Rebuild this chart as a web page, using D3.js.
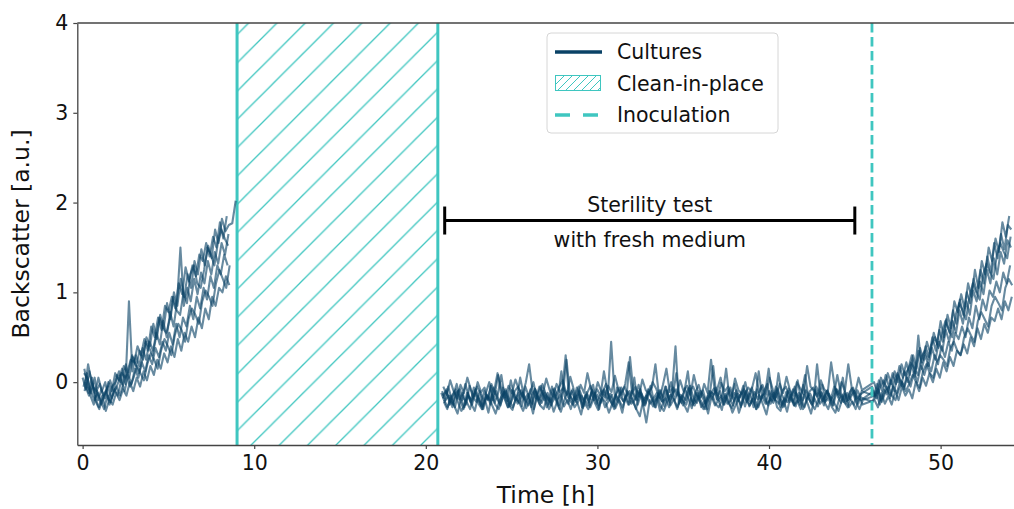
<!DOCTYPE html>
<html>
<head>
<meta charset="utf-8">
<script src="https://cdn.jsdelivr.net/npm/d3@7"></script>
<style>
  body { margin: 0; background: #fff; }
  text { font-family: "DejaVu Sans", sans-serif; fill: #111; }
</style>
</head>
<body>
<div id="chart"></div>
<script>
// sampling of the backscatter readings (hours)
var stepH = 0.2;
var preStart = 0;
var sterileStart = 20.9;
var postStart = 46;
// each culture is read a little after the previous one
var cultureOffset = [0, 0.1, 0.05, 0.15, 0.12, 0.08, 0.17];

// growth before clean-in-place, one row per culture
var preCip = [
  [0.05, -0.08, 0.12, -0.05, -0.1, -0.02, -0.15, -0.08, 0.02, -0.1,
   0.08, 0.0, 0.18, 0.1, 0.25, 0.22, 0.4, 0.3, 0.48, 0.35,
   0.62, 0.5, 0.72, 0.58, 0.85, 0.78, 0.95, 0.82, 1.1, 0.98,
   1.28, 1.12, 1.3, 1.18, 1.42, 1.35, 1.55, 1.4, 1.62, 1.5,
   1.78, 1.6, 1.85],
  [0.15, -0.05, -0.12, 0.05, -0.2, -0.08, -0.18, 0.0, -0.1, 0.1,
   0.02, 0.15, -0.02, 0.9, 0.12, 0.3, 0.18, 0.38, 0.25, 0.45,
   0.35, 0.55, 0.42, 0.68, 0.5, 0.78, 0.62, 0.88, 1.5, 0.85,
   1.05, 0.9, 1.15, 0.98, 1.22, 1.1, 1.35, 1.2, 1.45, 1.32,
   1.55, 1.42, 1.65],
  [-0.05, 0.1, -0.15, -0.25, -0.1, -0.2, -0.3, -0.15, -0.22, -0.08,
   -0.15, 0.02, -0.1, 0.08, -0.02, 0.15, 0.05, 0.22, 0.12, 0.3,
   0.2, 0.38, 0.28, 0.45, 0.35, 0.55, 0.42, 0.65, 0.5, 0.72,
   0.62, 0.85, 0.7, 0.95, 0.82, 1.05, 0.92, 1.18, 1.05, 1.3,
   1.2, 1.42, 1.3],
  [0.0, -0.12, 0.05, -0.18, -0.28, -0.15, -0.32, -0.2, -0.25, -0.12,
   -0.2, -0.08, -0.15, 0.0, -0.1, 0.05, -0.05, 0.12, 0.02, 0.18,
   0.08, 0.25, 0.15, 0.32, 0.22, 0.4, 0.28, 0.48, 0.35, 0.55,
   0.45, 0.62, 0.5, 0.72, 0.6, 0.82, 0.7, 0.95, 0.85, 1.05,
   1.0, 1.18, 1.08],
  [-0.1, 0.2, 0.0, -0.12, 0.05, -0.1, 0.0, -0.2, -0.05, 0.0,
   0.12, -0.02, 0.2, 0.05, 0.28, 0.18, 0.35, 0.25, 0.5, 0.4,
   0.65, 0.48, 0.75, 0.6, 0.88, 0.7, 1.0, 0.85, 1.15, 0.95,
   1.2, 1.05, 1.35, 1.2, 1.48, 1.3, 1.52, 1.38, 1.7, 1.55,
   1.82, 1.68, 1.75, 1.77, 2.02],
  [0.1, 0.05, -0.1, -0.2, -0.12, -0.25, -0.15, -0.05, -0.18, -0.1,
   0.0, 0.1, 0.05, 0.12, 0.3, 0.2, 0.1, 0.25, 0.45, 0.38,
   0.3, 0.5, 0.72, 0.6, 0.55, 0.7, 0.95, 0.8, 0.75, 1.0,
   0.88, 1.2, 1.3, 1.1, 1.05, 1.25, 1.5, 1.42, 1.3, 1.55,
   1.7, 1.6, 1.52],
  [-0.05, -0.15, -0.02, -0.22, -0.3, -0.18, -0.1, -0.25, -0.12, -0.05,
   -0.15, -0.02, 0.08, -0.05, 0.05, 0.18, 0.1, 0.02, 0.2, 0.32,
   0.25, 0.15, 0.35, 0.48, 0.4, 0.3, 0.52, 0.65, 0.58, 0.45,
   0.7, 0.82, 0.75, 0.65, 0.9, 1.02, 0.95, 0.85, 1.1, 1.25,
   1.15, 1.05, 1.3]
];

// sterility test with fresh medium
var sterile = [
  [-0.12, -0.22, -0.05, -0.18, -0.28, -0.1, -0.2, -0.02, -0.15, -0.25,
   -0.08, -0.18, -0.3, -0.12, 0.0, -0.2, -0.1, -0.24, -0.06, -0.16,
   -0.27, -0.1, -0.19, 0.05, -0.14, -0.22, -0.08, -0.3, -0.15, -0.04,
   -0.2, -0.12, -0.26, -0.07, -0.18, 0.12, -0.16, -0.24, -0.1, -0.2,
   -0.05, -0.28, -0.14, -0.22, -0.09, -0.17, -0.3, -0.11, -0.02, -0.19,
   -0.25, -0.13, -0.06, -0.21, -0.15, 0.28, -0.12, -0.2, -0.08, -0.26,
   -0.14, -0.04, -0.22, -0.17, -0.09, -0.27, -0.13, 0.0, -0.2, -0.11,
   -0.23, -0.07, -0.18, -0.29, -0.12, -0.03, -0.16, -0.24, -0.1, -0.19,
   -0.06, -0.21, -0.14, 0.15, -0.18, -0.26, -0.09, -0.17, -0.04, -0.22,
   -0.13, -0.28, -0.08, -0.19, -0.11, -0.02, -0.24, -0.15, -0.07, -0.2,
   -0.27, -0.1, -0.16, -0.05, -0.22, -0.12, 0.08, -0.18, -0.25, -0.09,
   -0.15, -0.03, -0.2, -0.13, -0.26, -0.08, -0.17, 0.05, -0.21, -0.11,
   -0.06, -0.19, -0.14],
  [-0.18, -0.08, -0.25, -0.14, -0.02, -0.2, -0.3, -0.12, -0.22, -0.06,
   -0.16, -0.26, -0.1, -0.19, -0.04, -0.23, -0.13, 0.08, -0.17, -0.28,
   -0.09, -0.2, -0.12, -0.27, -0.05, -0.16, -0.24, -0.11, -0.19, -0.02,
   -0.14, -0.25, -0.08, -0.18, -0.3, -0.1, 0.25, -0.15, -0.21, -0.06,
   -0.17, -0.27, -0.12, -0.04, -0.2, -0.14, -0.23, -0.08, -0.18, 0.45,
   -0.13, -0.22, -0.06, -0.16, -0.25, -0.1, -0.19, -0.03, -0.15, -0.24,
   -0.11, -0.2, -0.28, -0.09, -0.17, -0.05, -0.22, -0.14, 0.1, -0.19,
   -0.26, -0.12, -0.04, -0.18, -0.23, -0.1, -0.16, -0.3, -0.13, -0.07,
   -0.2, -0.15, -0.25, -0.09, -0.18, -0.02, -0.21, -0.12, -0.27, -0.14,
   -0.06, -0.19, 0.12, -0.16, -0.24, -0.1, -0.2, -0.05, -0.17, -0.28,
   -0.11, -0.22, -0.08, -0.15, -0.25, -0.03, -0.18, -0.13, -0.21, 0.2,
   -0.14, -0.26, -0.09, -0.19, -0.05, -0.16, -0.23, -0.11, -0.2, -0.07,
   -0.15, -0.24, -0.1],
  [-0.1, -0.2, -0.15, -0.28, -0.08, -0.19, -0.12, -0.25, -0.04, -0.17,
   -0.22, -0.1, -0.3, -0.14, -0.2, -0.06, -0.18, -0.26, -0.11, -0.21,
   0.02, -0.15, -0.24, -0.09, -0.19, -0.13, -0.28, -0.07, -0.17, -0.23,
   -0.12, -0.2, -0.05, -0.16, -0.26, -0.1, 0.3, -0.18, -0.08, -0.22,
   -0.14, -0.29, -0.11, -0.19, -0.03, -0.24, -0.15, -0.09, -0.2, -0.13,
   -0.27, -0.06, -0.17, -0.22, -0.1, -0.18, 0.05, -0.25, -0.12, -0.2,
   -0.08, -0.16, -0.28, -0.13, -0.21, -0.05, -0.19, -0.11, 0.4, -0.24,
   -0.15, -0.2, -0.07, -0.26, -0.12, -0.18, -0.09, -0.23, -0.14, 0.18,
   -0.19, -0.1, -0.25, -0.16, -0.06, -0.21, -0.13, -0.28, -0.08, -0.17,
   -0.23, -0.11, -0.19, -0.04, -0.15, -0.26, -0.1, -0.2, 0.1, -0.14,
   -0.22, -0.07, -0.18, -0.27, -0.12, -0.2, -0.09, -0.16, -0.24, -0.05,
   -0.13, -0.21, -0.1, -0.18, -0.26, -0.08, -0.15, -0.22, -0.12, -0.19,
   -0.25, -0.09, -0.17],
  [-0.22, -0.3, -0.15, -0.26, -0.35, -0.18, -0.28, -0.12, -0.24, -0.32,
   -0.16, -0.27, -0.2, -0.34, -0.14, -0.25, -0.3, -0.19, -0.08, -0.26,
   -0.31, -0.17, -0.23, -0.12, -0.29, -0.2, -0.35, -0.15, -0.25, -0.1,
   -0.28, -0.18, -0.33, -0.22, -0.13, -0.27, -0.2, -0.3, -0.16, -0.24,
   -0.36, -0.19, -0.26, -0.11, -0.23, -0.31, -0.17, -0.28, -0.21, -0.14,
   -0.29, -0.2, -0.34, -0.15, -0.25, -0.18, -0.3, -0.12, -0.24, -0.45,
   -0.2, -0.27, -0.16, -0.32, -0.22, -0.09, -0.26, -0.19, -0.3, -0.14,
   -0.25, -0.33, -0.18, -0.23, -0.12, -0.28, -0.21, -0.35, -0.16, -0.26,
   -0.2, -0.31, -0.13, -0.24, -0.29, -0.17, -0.34, -0.22, -0.1, -0.27,
   -0.19, -0.3, -0.15, -0.25, -0.36, -0.18, -0.23, -0.12, -0.28, -0.2,
   -0.33, -0.16, -0.26, -0.21, -0.3, -0.14, -0.24, -0.35, -0.18, -0.27,
   -0.11, -0.23, -0.3, -0.17, -0.25, -0.32, -0.2, -0.13, -0.28, -0.22,
   -0.3, -0.16, -0.25],
  [-0.05, -0.14, 0.02, -0.1, -0.18, -0.03, -0.12, 0.05, -0.08, -0.16,
   0.0, -0.11, -0.06, -0.2, -0.02, -0.13, 0.08, -0.09, -0.17, -0.04,
   -0.12, 0.03, -0.08, -0.15, -0.01, 0.2, -0.1, -0.18, -0.05, -0.13,
   0.04, -0.09, -0.16, -0.02, -0.11, -0.06, -0.14, 0.06, -0.08, -0.19,
   -0.03, -0.12, 0.1, -0.07, -0.15, 0.0, -0.1, -0.17, -0.04, -0.11,
   0.07, -0.08, -0.14, -0.02, 0.22, -0.12, -0.05, -0.16, 0.03, -0.09,
   -0.13, 0.0, -0.07, -0.18, -0.03, 0.15, -0.11, -0.06, -0.15, 0.02,
   -0.1, -0.04, -0.14, 0.08, -0.08, -0.17, -0.02, -0.12, 0.25, -0.07,
   -0.15, -0.01, -0.1, -0.05, -0.16, 0.04, -0.09, -0.13, 0.0, -0.18,
   -0.06, 0.1, -0.11, -0.03, -0.14, 0.05, -0.08, -0.17, -0.02, -0.12,
   0.06, -0.09, -0.15, 0.0, -0.07, -0.13, 0.18, -0.05, -0.1, -0.16,
   0.02, -0.08, -0.12, 0.22, -0.04, -0.14, 0.0, -0.1, 0.2, -0.06,
   -0.12, 0.05, -0.09],
  [-0.15, -0.1, -0.2, -0.25, -0.12, -0.08, -0.18, -0.22, -0.3, -0.15,
   -0.05, -0.12, -0.2, -0.15, -0.25, -0.1, 0.1, -0.12, -0.18, -0.28,
   -0.22, -0.1, -0.05, -0.15, -0.2, -0.26, -0.14, -0.08, -0.2, -0.12,
   -0.18, -0.3, -0.22, -0.15, -0.05, 0.02, -0.12, -0.2, -0.25, -0.16,
   -0.1, -0.2, -0.14, -0.28, -0.18, -0.08, -0.15, 0.12, -0.1, -0.22,
   -0.3, -0.18, -0.12, -0.05, -0.15, -0.24, -0.2, -0.1, -0.16, -0.26,
   -0.12, -0.06, 0.2, -0.14, -0.22, -0.18, -0.28, -0.12, -0.08, -0.16,
   -0.2, -0.25, -0.1, -0.05, -0.15, -0.22, -0.3, -0.18, -0.1, -0.14,
   -0.08, 0.05, -0.16, -0.24, -0.2, -0.12, -0.18, -0.26, -0.15, -0.06,
   -0.1, -0.2, -0.28, -0.16, -0.12, 0.15, -0.14, -0.2, -0.24, -0.1,
   -0.05, -0.16, -0.22, -0.12, -0.18, -0.3, -0.2, -0.1, -0.06, -0.15,
   -0.24, -0.18, -0.1, -0.2, -0.14, 0.08, -0.12, -0.22, -0.28, -0.16,
   -0.1, -0.18, -0.2],
  [-0.2, -0.28, -0.18, -0.1, -0.22, -0.32, -0.25, -0.15, -0.2, -0.12,
   -0.24, -0.3, -0.2, -0.16, -0.26, -0.35, -0.22, -0.14, -0.1, -0.2,
   -0.28, -0.18, -0.24, -0.32, -0.2, -0.12, 0.0, -0.18, -0.26, -0.3,
   -0.16, -0.22, -0.14, -0.25, -0.33, -0.2, -0.1, -0.18, -0.28, -0.22,
   -0.15, -0.24, -0.3, -0.2, -0.12, -0.26, -0.18, -0.22, -0.34, -0.24,
   -0.14, -0.2, -0.28, -0.16, -0.1, -0.22, -0.3, -0.38, -0.2, -0.15,
   -0.24, -0.18, -0.12, -0.26, -0.32, -0.22, -0.14, -0.2, -0.28, -0.18,
   -0.1, 0.12, -0.2, -0.26, -0.16, -0.22, -0.3, -0.18, -0.12, -0.24,
   -0.28, -0.2, -0.15, -0.22, -0.34, -0.25, -0.16, -0.1, -0.2, -0.26,
   -0.18, -0.3, -0.22, -0.14, -0.24, -0.2, -0.12, -0.28, -0.32, -0.18,
   -0.22, -0.14, -0.26, 0.02, -0.2, -0.28, -0.16, -0.24, -0.3, -0.2,
   -0.12, -0.22, -0.18, -0.28, -0.34, -0.2, -0.14, -0.24, -0.18, -0.1,
   -0.22, -0.3, -0.2]
];

// growth after inoculation
var postInoc = [
  [-0.05, -0.18, 0.02, -0.1, 0.08, -0.06, 0.1, -0.02, 0.18, 0.05,
   0.22, 0.08, 0.3, 0.15, 0.38, 0.25, 0.45, 0.32, 0.55, 0.42,
   0.68, 0.5, 0.75, 0.6, 0.9, 0.78, 0.98, 0.82, 1.1, 0.95,
   1.25, 1.05, 1.35, 1.2, 1.5, 1.35, 1.6, 1.45, 1.78, 1.62, 1.85],
  [-0.15, -0.02, -0.2, -0.08, -0.14, 0.02, -0.1, 0.08, -0.04, 0.12,
   0.0, 0.2, 0.06, 0.52, 0.15, 0.3, 0.18, 0.38, 0.25, 0.45,
   0.35, 0.58, 0.45, 0.68, 0.55, 0.8, 0.65, 0.9, 0.75, 1.02,
   0.9, 1.12, 0.98, 1.25, 1.1, 1.38, 1.2, 1.45, 1.32, 1.58, 1.5],
  [-0.22, -0.1, -0.25, -0.15, -0.05, -0.18, -0.05, -0.12, 0.02, -0.08,
   0.05, -0.05, 0.12, 0.0, 0.18, 0.08, 0.22, 0.12, 0.3, 0.2,
   0.4, 0.28, 0.45, 0.35, 0.55, 0.48, 0.62, 0.5, 0.72, 0.6,
   0.85, 0.7, 0.92, 0.8, 1.02, 0.95, 1.12, 1.0, 1.22, 1.1, 1.3],
  [-0.2, -0.28, -0.12, -0.24, -0.16, -0.25, -0.1, -0.2, -0.05, -0.15,
   -0.08, -0.18, 0.0, -0.1, 0.05, -0.04, 0.1, 0.0, 0.15, 0.05,
   0.22, 0.12, 0.28, 0.18, 0.35, 0.3, 0.42, 0.32, 0.5, 0.4,
   0.6, 0.48, 0.65, 0.55, 0.72, 0.68, 0.82, 0.7, 0.9, 0.8, 0.95],
  [0.0, -0.12, 0.05, -0.05, 0.1, -0.02, 0.12, 0.0, 0.2, 0.08,
   0.15, 0.3, 0.1, 0.35, 0.22, 0.4, 0.28, 0.5, 0.35, 0.58,
   0.45, 0.7, 0.55, 0.8, 0.65, 0.92, 0.75, 1.0, 0.88, 1.15,
   1.0, 1.25, 1.1, 1.4, 1.22, 1.55, 1.38, 1.65, 1.48, 1.75, 1.7],
  [-0.1, -0.18, -0.05, 0.02, -0.08, -0.15, 0.0, 0.1, 0.02, -0.05,
   0.12, 0.22, 0.15, 0.08, 0.28, 0.35, 0.25, 0.42, 0.5, 0.38,
   0.55, 0.68, 0.58, 0.5, 0.75, 0.88, 0.8, 0.7, 0.95, 1.1,
   1.0, 0.92, 1.2, 1.32, 1.22, 1.15, 1.42, 1.55, 1.45, 1.38, 1.62],
  [-0.15, -0.08, -0.22, -0.12, -0.05, -0.15, -0.2, -0.08, 0.0, -0.1,
   -0.02, 0.08, 0.0, -0.06, 0.12, 0.2, 0.1, 0.05, 0.22, 0.3,
   0.25, 0.18, 0.38, 0.45, 0.35, 0.3, 0.5, 0.6, 0.52, 0.45,
   0.68, 0.78, 0.7, 0.62, 0.85, 0.95, 0.88, 0.8, 1.05, 1.15, 1.08]
];

// events
var cipStart = 9.0, cipEnd = 20.7;
var inoculationTime = 46.0;
var sterilityFrom = 21.1, sterilityTo = 45.0, sterilityLevel = 1.8;

var xTicks = [0, 10, 20, 30, 40, 50];
var yTicks = [0, 1, 2, 3, 4];

var svgWidth = 1014;
var svgHeight = 509;
var margin = { top: 23, left: 77.3, bottom: 64 };
var plotRight = 1014.4;
var plotBottom = svgHeight - margin.bottom;

var cultureColor = "#0a4266";
var tealColor = "#3fc6c0";

var svg = d3.select("#chart")
  .append("svg")
  .attr("width", svgWidth)
  .attr("height", svgHeight);

var xScale = d3.scaleLinear()
  .domain([-0.31, 54.3])
  .range([margin.left, plotRight]);

var yScale = d3.scaleLinear()
  .domain([-0.7, 4])
  .range([plotBottom, margin.top]);

var defs = svg.append("defs");

defs.append("clipPath")
  .attr("id", "plotClip")
  .append("rect")
  .attr("x", margin.left)
  .attr("y", margin.top)
  .attr("width", plotRight - margin.left)
  .attr("height", plotBottom - margin.top);

// hatch for the clean-in-place span
var hatchGap = 28.3;
defs.append("pattern")
  .attr("id", "cipHatch")
  .attr("patternUnits", "userSpaceOnUse")
  .attr("width", hatchGap)
  .attr("height", hatchGap)
  .attr("patternTransform", "translate(17,0)")
  .append("path")
  .attr("d", `M0,${hatchGap} L${hatchGap},0 M-2,2 L2,-2 M${hatchGap - 2},${hatchGap + 2} L${hatchGap + 2},${hatchGap - 2}`)
  .attr("stroke", tealColor)
  .attr("stroke-width", 1.3);

defs.append("pattern")
  .attr("id", "legendHatch")
  .attr("patternUnits", "userSpaceOnUse")
  .attr("width", 8)
  .attr("height", 8)
  .append("path")
  .attr("d", "M0,8 L8,0 M-2,2 L2,-2 M6,10 L10,6")
  .attr("stroke", tealColor)
  .attr("stroke-width", 1);

var plot = svg.append("g").attr("clip-path", "url(#plotClip)");

// clean-in-place span
plot.append("rect")
  .attr("x", xScale(cipStart))
  .attr("y", margin.top)
  .attr("width", xScale(cipEnd) - xScale(cipStart))
  .attr("height", plotBottom - margin.top)
  .attr("fill", "url(#cipHatch)");

[cipStart, cipEnd].forEach(function(t) {
  plot.append("line")
    .attr("x1", xScale(t)).attr("x2", xScale(t))
    .attr("y1", margin.top).attr("y2", plotBottom)
    .attr("stroke", tealColor)
    .attr("stroke-width", 3);
});

// build point lists
function toPoints(values, start) {
  return values.map(function(v, i) { return [start + i * stepH, v]; });
}

var line = d3.line()
  .x(d => xScale(d[0]))
  .y(d => yScale(d[1]));

var runs = [];
preCip.forEach(function(vals, i) {
  runs.push(toPoints(vals, preStart + cultureOffset[i]));
});
sterile.forEach(function(vals, i) {
  runs.push(toPoints(vals, sterileStart + cultureOffset[i])
    .concat(toPoints(postInoc[i], postStart + cultureOffset[i])));
});

plot.selectAll("path.culture")
  .data(runs)
  .enter()
  .append("path")
  .attr("class", "culture")
  .attr("d", line)
  .attr("fill", "none")
  .attr("stroke", cultureColor)
  .attr("stroke-width", 2.1)
  .attr("stroke-opacity", 0.62)
  .attr("stroke-linejoin", "round");

// inoculation
plot.append("line")
  .attr("x1", xScale(inoculationTime)).attr("x2", xScale(inoculationTime))
  .attr("y1", margin.top).attr("y2", plotBottom)
  .attr("stroke", tealColor)
  .attr("stroke-width", 2.8)
  .attr("stroke-dasharray", "9.5,4.5");

// sterility test bar
var barY = yScale(sterilityLevel);
var capH = 14;
var bar = svg.append("g").attr("stroke", "#000").attr("stroke-width", 3);
bar.append("line")
  .attr("x1", xScale(sterilityFrom)).attr("x2", xScale(sterilityTo))
  .attr("y1", barY).attr("y2", barY);
[sterilityFrom, sterilityTo].forEach(function(t) {
  bar.append("line")
    .attr("x1", xScale(t)).attr("x2", xScale(t))
    .attr("y1", barY - capH).attr("y2", barY + capH);
});

var midX = xScale((sterilityFrom + sterilityTo) / 2);
svg.append("text")
  .attr("x", midX).attr("y", barY - 9)
  .attr("text-anchor", "middle")
  .style("font-size", "20.5px")
  .text("Sterility test");
svg.append("text")
  .attr("x", midX).attr("y", barY + 26)
  .attr("text-anchor", "middle")
  .style("font-size", "20.5px")
  .text("with fresh medium");

// axes
var xAxis = svg.append("g")
  .attr("transform", `translate(0, ${plotBottom})`)
  .call(d3.axisBottom(xScale).tickValues(xTicks).tickFormat(d3.format("d"))
    .tickSize(4).tickSizeOuter(0).tickPadding(6));

var yAxis = svg.append("g")
  .attr("transform", `translate(${margin.left}, 0)`)
  .call(d3.axisLeft(yScale).tickValues(yTicks).tickFormat(d3.format("d"))
    .tickSize(4).tickSizeOuter(0).tickPadding(5));

[xAxis, yAxis].forEach(function(ax) {
  ax.selectAll("text")
    .style("font-family", "DejaVu Sans, sans-serif")
    .style("font-size", "20.5px")
    .attr("fill", "#111");
  ax.selectAll("line").attr("stroke", "#444").attr("stroke-width", 1.2);
  ax.select(".domain").attr("stroke", "#444").attr("stroke-width", 1.3);
});

// top spine
svg.append("line")
  .attr("x1", margin.left).attr("x2", svgWidth)
  .attr("y1", margin.top).attr("y2", margin.top)
  .attr("stroke", "#444")
  .attr("stroke-width", 1.3);

// axis labels
svg.append("text")
  .attr("transform", `translate(29, ${(margin.top + plotBottom) / 2}) rotate(-90)`)
  .attr("text-anchor", "middle")
  .style("font-size", "23.5px")
  .text("Backscatter [a.u.]");

svg.append("text")
  .attr("x", (margin.left + plotRight) / 2)
  .attr("y", 503)
  .attr("text-anchor", "middle")
  .style("font-size", "23.5px")
  .text("Time [h]");

// legend
var legend = svg.append("g");
legend.append("rect")
  .attr("x", 547).attr("y", 33)
  .attr("width", 231).attr("height", 100)
  .attr("rx", 4)
  .attr("fill", "#fff")
  .attr("fill-opacity", 0.85)
  .attr("stroke", "#d6d6d6")
  .attr("stroke-width", 1);

legend.append("line")
  .attr("x1", 555).attr("x2", 602)
  .attr("y1", 52).attr("y2", 52)
  .attr("stroke", cultureColor)
  .attr("stroke-width", 3.5);

legend.append("rect")
  .attr("x", 555.5).attr("y", 75.5)
  .attr("width", 45).attr("height", 15)
  .attr("fill", "url(#legendHatch)")
  .attr("stroke", tealColor)
  .attr("stroke-width", 1);

legend.append("line")
  .attr("x1", 555).attr("x2", 602)
  .attr("y1", 115).attr("y2", 115)
  .attr("stroke", tealColor)
  .attr("stroke-width", 3.5)
  .attr("stroke-dasharray", "15,13");

var legendLabels = ["Cultures", "Clean-in-place", "Inoculation"];
legend.selectAll("text.lbl")
  .data(legendLabels)
  .enter()
  .append("text")
  .attr("class", "lbl")
  .attr("x", 617)
  .attr("y", (d, i) => 59 + i * 31.5)
  .style("font-size", "20.5px")
  .text(d => d);
</script>
</body>
</html>
